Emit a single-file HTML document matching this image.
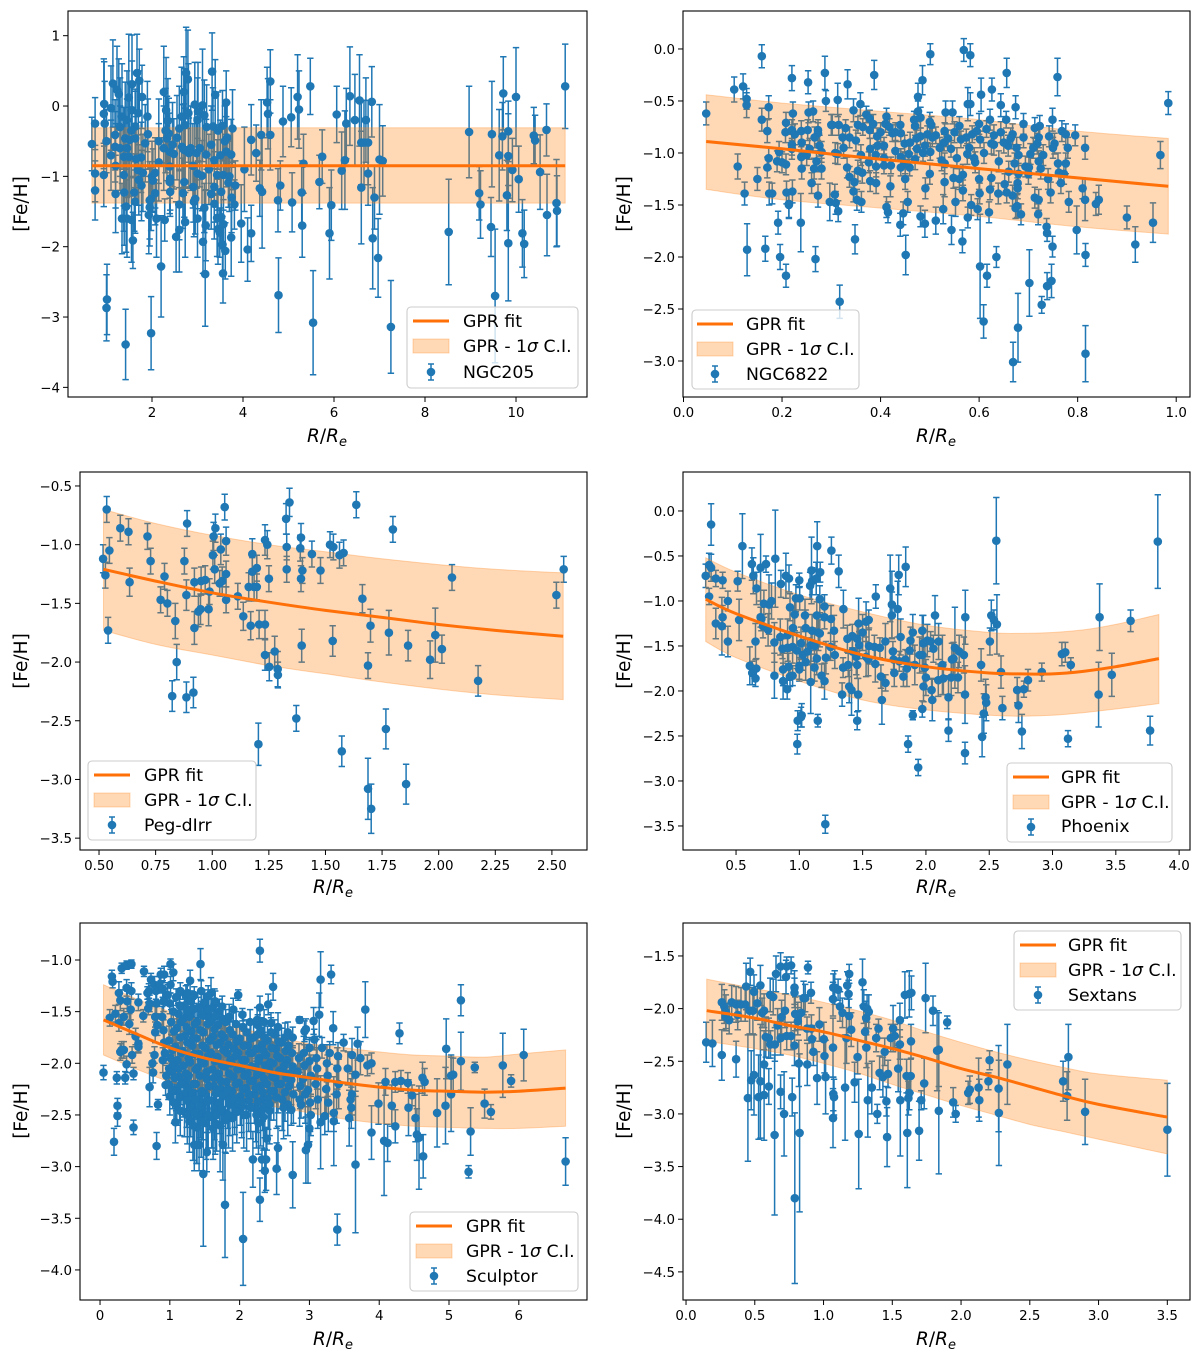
<!DOCTYPE html>
<html lang="en">
<head>
<meta charset="utf-8">
<title>GPR fits of [Fe/H] versus R/Re</title>
<style>
html,body{margin:0;padding:0;background:#fff;}
svg{display:block;font-family:"DejaVu Sans","Liberation Sans",sans-serif;}
.frame{fill:none;stroke:#000;stroke-width:1.1;}
.legend-box{fill:#fff;fill-opacity:.8;stroke:#ccc;stroke-width:1.1;}
.legend-text{font-size:17.3px;fill:#000;}
.axis-title{font-size:18.5px;fill:#000;text-anchor:middle;}
.fit-sample{stroke:#ff7008;stroke-width:3;}
.band-sample{fill:#ff7f0e;fill-opacity:.3;stroke:#ff7f0e;stroke-opacity:.3;}
.tick-label{font-size:13.4px;fill:#000;}
</style>
</head>
<body>
<svg xmlns="http://www.w3.org/2000/svg" width="1200" height="1361" viewBox="0 0 1200 1361">
  <rect width="1200" height="1361" fill="#fff"/>

  <g id="panel-ngc205">
    <g class="marks"></g>
    <rect class="frame" x="68" y="11" width="519" height="386"/>
    <g class="ticks"></g>
    <text class="axis-title" x="327" y="442"><tspan font-style="italic">R</tspan>/<tspan font-style="italic">R</tspan><tspan font-style="italic" font-size="13" dy="4">e</tspan></text>
    <text class="axis-title" transform="translate(27,204) rotate(-90)">[Fe/H]</text>
    <g>
      <rect class="legend-box" x="407" y="307" width="171" height="81" rx="4"/>
      <line class="fit-sample" x1="413" x2="449" y1="321" y2="321"/>
      <text class="legend-text" x="463" y="327">GPR fit</text>
      <rect class="band-sample" x="413" y="339" width="36" height="14"/>
      <text class="legend-text" x="463" y="352">GPR - 1<tspan font-style="italic">σ</tspan> C.I.</text>
      <path d="M431 364V380M428 364H434M428 380H434" stroke="#1f77b4" stroke-width="1.5" fill="none"/>
      <circle cx="431" cy="372" r="4.3" fill="#1f77b4"/>
      <text class="legend-text" x="463" y="378">NGC205</text>
    </g>
  </g>

  <g id="panel-ngc6822">
    <g class="marks"></g>
    <rect class="frame" x="683" y="11" width="507" height="386"/>
    <g class="ticks"></g>
    <text class="axis-title" x="936" y="442"><tspan font-style="italic">R</tspan>/<tspan font-style="italic">R</tspan><tspan font-style="italic" font-size="13" dy="4">e</tspan></text>
    <text class="axis-title" transform="translate(630,204) rotate(-90)">[Fe/H]</text>
    <g>
      <rect class="legend-box" x="692" y="310" width="167" height="79" rx="4"/>
      <line class="fit-sample" x1="697" x2="733" y1="324" y2="324"/>
      <text class="legend-text" x="746" y="330">GPR fit</text>
      <rect class="band-sample" x="697" y="342" width="36" height="14"/>
      <text class="legend-text" x="746" y="355">GPR - 1<tspan font-style="italic">σ</tspan> C.I.</text>
      <path d="M715 366V382M712 366H718M712 382H718" stroke="#1f77b4" stroke-width="1.5" fill="none"/>
      <circle cx="715" cy="374" r="4.3" fill="#1f77b4"/>
      <text class="legend-text" x="746" y="380">NGC6822</text>
    </g>
  </g>

  <g id="panel-peg">
    <g class="marks"></g>
    <rect class="frame" x="80" y="472" width="507" height="378"/>
    <g class="ticks"></g>
    <text class="axis-title" x="333" y="893"><tspan font-style="italic">R</tspan>/<tspan font-style="italic">R</tspan><tspan font-style="italic" font-size="13" dy="4">e</tspan></text>
    <text class="axis-title" transform="translate(27,661) rotate(-90)">[Fe/H]</text>
    <g>
      <rect class="legend-box" x="88" y="761" width="168" height="79" rx="4"/>
      <line class="fit-sample" x1="94" x2="130" y1="775" y2="775"/>
      <text class="legend-text" x="144" y="781">GPR fit</text>
      <rect class="band-sample" x="94" y="793" width="36" height="14"/>
      <text class="legend-text" x="144" y="806">GPR - 1<tspan font-style="italic">σ</tspan> C.I.</text>
      <path d="M112 817V833M109 817H115M109 833H115" stroke="#1f77b4" stroke-width="1.5" fill="none"/>
      <circle cx="112" cy="825" r="4.3" fill="#1f77b4"/>
      <text class="legend-text" x="144" y="831">Peg-dIrr</text>
    </g>
  </g>

  <g id="panel-phoenix">
    <g class="marks"></g>
    <rect class="frame" x="683" y="472" width="507" height="378"/>
    <g class="ticks"></g>
    <text class="axis-title" x="936" y="893"><tspan font-style="italic">R</tspan>/<tspan font-style="italic">R</tspan><tspan font-style="italic" font-size="13" dy="4">e</tspan></text>
    <text class="axis-title" transform="translate(630,661) rotate(-90)">[Fe/H]</text>
    <g>
      <rect class="legend-box" x="1007" y="763" width="165" height="79" rx="4"/>
      <line class="fit-sample" x1="1013" x2="1049" y1="777" y2="777"/>
      <text class="legend-text" x="1061" y="783">GPR fit</text>
      <rect class="band-sample" x="1013" y="795" width="36" height="14"/>
      <text class="legend-text" x="1061" y="808">GPR - 1<tspan font-style="italic">σ</tspan> C.I.</text>
      <path d="M1031 819V835M1028 819H1034M1028 835H1034" stroke="#1f77b4" stroke-width="1.5" fill="none"/>
      <circle cx="1031" cy="827" r="4.3" fill="#1f77b4"/>
      <text class="legend-text" x="1061" y="832">Phoenix</text>
    </g>
  </g>

  <g id="panel-sculptor">
    <g class="marks"></g>
    <rect class="frame" x="80" y="923" width="507" height="377"/>
    <g class="ticks"></g>
    <text class="axis-title" x="333" y="1345"><tspan font-style="italic">R</tspan>/<tspan font-style="italic">R</tspan><tspan font-style="italic" font-size="13" dy="4">e</tspan></text>
    <text class="axis-title" transform="translate(27,1111) rotate(-90)">[Fe/H]</text>
    <g>
      <rect class="legend-box" x="410" y="1212" width="168" height="79" rx="4"/>
      <line class="fit-sample" x1="416" x2="452" y1="1226" y2="1226"/>
      <text class="legend-text" x="466" y="1232">GPR fit</text>
      <rect class="band-sample" x="416" y="1244" width="36" height="14"/>
      <text class="legend-text" x="466" y="1257">GPR - 1<tspan font-style="italic">σ</tspan> C.I.</text>
      <path d="M434 1268V1284M431 1268H437M431 1284H437" stroke="#1f77b4" stroke-width="1.5" fill="none"/>
      <circle cx="434" cy="1276" r="4.3" fill="#1f77b4"/>
      <text class="legend-text" x="466" y="1282">Sculptor</text>
    </g>
  </g>

  <g id="panel-sextans">
    <g class="marks"></g>
    <rect class="frame" x="683" y="923" width="507" height="377"/>
    <g class="ticks"></g>
    <text class="axis-title" x="936" y="1345"><tspan font-style="italic">R</tspan>/<tspan font-style="italic">R</tspan><tspan font-style="italic" font-size="13" dy="4">e</tspan></text>
    <text class="axis-title" transform="translate(630,1111) rotate(-90)">[Fe/H]</text>
    <g>
      <rect class="legend-box" x="1014" y="931" width="167" height="79" rx="4"/>
      <line class="fit-sample" x1="1020" x2="1056" y1="945" y2="945"/>
      <text class="legend-text" x="1068" y="951">GPR fit</text>
      <rect class="band-sample" x="1020" y="963" width="36" height="14"/>
      <text class="legend-text" x="1068" y="976">GPR - 1<tspan font-style="italic">σ</tspan> C.I.</text>
      <path d="M1038 987V1003M1035 987H1041M1035 1003H1041" stroke="#1f77b4" stroke-width="1.5" fill="none"/>
      <circle cx="1038" cy="995" r="4.3" fill="#1f77b4"/>
      <text class="legend-text" x="1068" y="1001">Sextans</text>
    </g>
  </g>
</svg>

<script>
/* ---------- NGC205 ---------- */
const ngc205R = [
.68,.75,.75,.75,.94,.95,.96,.94,1.0,1.01,
1.0,1.14,1.23,1.27,1.1,1.19,1.19,1.34,1.34,1.42,
1.41,1.38,1.38,1.39,1.43,1.49,1.51,1.56,1.56,1.49,
1.55,1.58,1.61,1.63,1.67,1.72,1.63,1.69,1.63,1.71,
1.77,1.76,1.78,1.85,1.9,1.91,1.98,1.95,1.95,1.93,
2.0,2.02,2.07,2.07,1.98,2.2,2.26,2.28,2.31,2.35,
2.33,2.26,2.37,2.39,2.39,2.4,2.39,2.4,2.48,2.53,
2.6,2.6,2.66,2.7,2.75,2.79,2.72,2.73,2.71,2.68,
2.73,2.81,2.91,2.94,2.98,3.01,2.92,2.95,3.0,3.11,
3.15,3.19,3.1,3.15,3.18,3.12,3.17,3.32,3.34,3.39,
3.37,3.37,3.37,3.43,3.43,3.49,3.52,3.57,3.55,3.63,
3.65,3.63,3.74,3.52,3.57,3.55,3.61,3.56,3.74,3.68,
3.83,3.77,3.81,3.96,4.03,4.1,4.18,4.18,4.29,4.37,
4.42,4.4,4.53,4.55,4.6,4.6,4.77,4.82,4.78,4.88,
5.06,5.08,5.2,5.23,5.29,5.3,5.33,5.48,5.54,5.68,
5.74,5.9,5.94,6.06,6.17,6.24,6.27,6.35,6.46,6.56,
6.7,6.83,6.6,6.66,6.75,6.6,6.75,6.89,6.85,6.97,
7.0,7.07,7.25,8.52,8.97,9.19,9.22,9.45,9.47,9.54,
9.63,9.7,9.72,9.8,9.83,9.83,9.83,9.92,10.0,10.06,
10.14,10.18,10.39,10.42,10.53,10.67,10.68,10.89,10.9,11.08,
1.1,1.2,1.3,1.3,1.45,1.45,1.55,1.65,1.7,1.8,
2.15,2.15,2.3,2.45,2.55,2.65,2.7,2.8,2.85,2.9,
3.0,3.05,3.2,3.25,3.3,3.45,3.5,3.6,3.7,3.75,
1.2,1.45,2.1,2.6,3.0,3.3,3.45];
const ngc205FeH = [
-.54,-.25,-.96,-1.2,-.11,.03,-.25,-.98,-.5,-2.75,
-2.87,.32,.23,.17,-.03,-.41,-.58,-.15,-1.6,-3.39,
-.46,-.72,-.98,-1.23,-1.43,.12,-.48,.31,-.06,-.72,
-1.62,-1.91,-1.23,-.46,.47,.36,-.29,-.91,-1.36,-1.05,
-1.13,-.73,.13,-.53,-.15,-.4,-3.23,-1.34,-1.44,-1.55,
-1.0,-1.06,-.95,-1.24,-1.32,-2.28,.2,-1.62,-.06,-.21,
-.46,-.6,-.39,-.65,-.86,-1.03,-1.08,-1.22,-.68,-1.86,
-1.76,-.32,-.58,.2,.47,.38,-.27,-.63,-1.08,-1.24,
-1.65,-.67,-1.15,.02,-.67,-.08,-1.36,-1.32,-.96,.01,
-.13,-.69,-.99,-1.45,-1.7,-1.93,-2.39,.49,-.29,.16,
-.77,-1.15,-1.39,-.98,-1.59,-1.8,-1.22,-.98,-.28,.05,
-.45,-.65,-.69,-1.58,-1.68,-1.97,-2.06,-2.38,-1.87,-1.09,
-1.13,-.32,-1.4,-1.67,-.9,-2.04,-.48,-1.81,-.67,-1.17,
-1.22,-.41,.05,-.11,.35,-.41,-1.34,-1.13,-2.69,-.22,
-.16,-1.37,.13,-.05,-1.23,-1.7,-.82,.28,-3.08,-1.08,
-.72,-1.81,-1.41,-.12,-.92,-.77,-.25,.14,-.2,.08,
-.2,.06,-.52,-.52,-.52,-1.16,-.96,-1.3,-1.88,-2.16,
-.76,-.78,-3.14,-1.79,-.37,-1.24,-1.4,-1.72,-.4,-2.7,
-.7,-.43,.18,-1.27,-.71,-1.95,-.36,-.91,.13,-1.04,
-1.81,-1.96,-.42,-.49,-.94,-.34,-1.55,-1.38,-1.49,.28,
-.7,-.85,-.3,-.6,-.2,-.6,-.35,-.75,-.1,-.95,
-.5,-.8,-.35,-.55,-.45,-.15,-.62,-.1,-.6,-.85,
-.2,-.6,-.3,-.9,-.55,-.35,-.7,-.5,-1.0,-1.3,
-1.25,-1.6,-1.6,-1.4,-1.6,-1.25,-1.75];
const ngc205Err = [
.38,.37,.4,.42,.78,.6,.6,.45,.45,.5,
.47,.62,.62,.5,.6,.5,.5,.75,.5,.5,
.8,.7,.8,.75,.65,.9,.8,.7,.7,.7,
.6,.4,.55,.7,.55,.45,.5,.5,.45,.5,
.5,.5,.45,.55,.5,.5,.52,.55,.55,.55,
.5,.45,.5,.45,.45,.72,.65,.3,.75,.6,
.6,.6,.5,.55,.45,.45,.45,.35,.5,.5,
.6,.6,.6,.5,.65,.7,.8,.6,.5,.5,
.5,.5,.5,.6,.5,.7,.5,.5,.5,.8,
.5,.5,.5,.35,.5,.45,.74,.55,.55,.5,
.5,.5,.5,.5,.55,.35,.5,.5,.5,.45,
.5,.5,.5,.4,.35,.4,.4,.42,.55,.35,
.35,.55,.35,.55,.6,.45,.5,.4,.4,.4,
.8,.5,.5,.5,.45,.5,.45,.35,.53,.5,
.42,.42,.6,.55,.45,.45,.42,.4,.74,.38,
.38,.65,.5,.4,.55,.7,.5,.7,.65,.65,
.6,.5,.6,.6,.6,.8,.45,.45,.72,.56,
.78,.5,.66,.75,.65,.38,.48,.42,.75,.95,
.65,.48,.52,.5,.6,.82,.43,.45,.7,.47,
.48,.48,.4,.36,.53,.37,.58,.62,.5,.6,
.5,.6,.7,.6,.7,.7,.65,.6,.6,.55,
.6,.55,.6,.6,.6,.7,.65,.7,.6,.6,
.6,.55,.6,.5,.55,.55,.5,.5,.5,.5,
.55,.55,.55,.5,.55,.5,.5];
const ngc205FitR = [.68,3,6,9,11.08];
const ngc205FitMean = [-.85,-.85,-.85,-.85,-.85];
const ngc205FitUpper = [-.31,-.31,-.31,-.31,-.31];
const ngc205FitLower = [-1.38,-1.38,-1.38,-1.38,-1.38];
const ngc205XTicks = [2,4,6,8,10];
const ngc205YTicks = [1,0,-1,-2,-3,-4];

/* ---------- NGC6822 ---------- */
const ngc6822R = [
.046,.103,.121,.128,.128,.11,.124,.129,.159,.159,
.173,.17,.173,.17,.15,.174,.18,.166,.192,.196,
.208,.22,.222,.208,.207,.226,.22,.22,.194,.19,
.2,.208,.209,.221,.214,.214,.238,.253,.254,.263,
.239,.252,.273,.273,.266,.256,.276,.25,.239,.27,
.265,.26,.273,.268,.287,.289,.313,.333,.302,.315,
.329,.323,.337,.308,.313,.332,.337,.297,.307,.309,
.314,.317,.345,.359,.387,.371,.378,.354,.364,.378,
.393,.379,.394,.407,.376,.391,.407,.407,.421,.354,
.363,.347,.379,.391,.42,.345,.352,.361,.348,.412,
.41,.418,.424,.441,.449,.468,.476,.485,.476,.481,
.501,.473,.481,.495,.503,.512,.441,.457,.441,.459,
.474,.486,.501,.524,.529,.537,.532,.546,.53,.543,
.412,.415,.44,.446,.455,.491,.451,.481,.49,.512,
.527,.53,.548,.544,.552,.567,.567,.566,.577,.584,
.569,.582,.577,.582,.563,.574,.586,.595,.602,.576,
.592,.604,.626,.644,.622,.615,.644,.625,.63,.656,
.655,.674,.668,.664,.659,.676,.672,.625,.652,.622,
.639,.601,.656,.668,.68,.678,.678,.677,.674,.685,
.62,.597,.602,.616,.635,.609,.669,.679,.702,.727,
.738,.747,.749,.737,.738,.72,.713,.721,.745,.766,
.762,.772,.776,.725,.721,.704,.69,.713,.723,.721,
.718,.742,.749,.759,.753,.768,.776,.795,.815,.694,
.701,.782,.81,.815,.837,.843,.798,.816,.816,.9,
.917,.953,.968,.984,
.24,.28,.3,.325,.35,.36,.385,.39,.4,.43,
.43,.44,.45,.46,.47,.47,.49,.5,.505,.52,
.53,.55,.555,.56,.58,.59,.6,.61,.63,.64,
.65,.66,.68,.69,.7,.71,.73,.74,.75,.76,
.78,.45,.5,.56,.6,.24,.28,.22];
const ngc6822FeH = [
-.62,-.39,-.36,-.48,-.54,-1.13,-1.39,-1.93,-.07,-.68,
-.56,-.79,-1.05,-1.14,-1.25,-1.39,-1.39,-1.92,-1.67,-2.0,
-2.18,-.28,-.62,-.71,-.8,-.82,-.92,-.96,-.99,-1.08,
-1.09,-1.11,-1.38,-1.37,-1.49,-1.5,-1.67,-.32,-.61,-.6,
-.79,-.78,-.78,-.81,-.85,-.96,-.93,-1.02,-1.04,-1.08,
-1.15,-1.29,-1.41,-2.02,-.23,-.5,-.49,-.34,-.73,-.73,
-.76,-.85,-.85,-1.0,-1.01,-1.14,-1.23,-1.47,-1.4,-1.48,
-1.56,-2.43,-.59,-.53,-.25,-.63,-.67,-.73,-.75,-.78,
-.84,-.96,-.93,-.93,-1.09,-1.13,-1.12,-1.05,-1.12,-1.17,
-1.19,-1.28,-1.27,-1.29,-1.32,-1.37,-1.45,-1.47,-1.83,-.65,
-.72,-.75,-.81,-.81,-.91,-.68,-.46,-.3,-.6,-.66,
-.05,-.86,-.84,-.82,-.73,-.83,-1.04,-1.01,-1.14,-1.14,
-.96,-1.0,-.99,-1.07,-.9,-.86,-.61,-.61,-.79,-.96,
-1.52,-1.57,-1.69,-1.58,-1.47,-1.34,-1.98,-1.61,-1.68,-1.65,
-1.54,-1.28,-1.24,-1.74,-1.47,-1.21,-1.36,-1.85,-1.62,-1.5,
-.01,-.06,-.53,-.53,-.87,-.85,-.82,-.79,-.87,-1.01,
-1.09,-.44,-.39,-.54,-.68,-.77,-.8,-.91,-.92,-.23,
-.68,-.56,-.82,-.86,-.93,-.95,-1.1,-1.24,-1.3,-1.35,
-1.39,-1.39,-1.38,-1.41,-1.2,-1.29,-1.34,-1.51,-1.53,-1.59,
-1.57,-1.54,-2.09,-2.18,-2.0,-2.62,-3.01,-2.68,-2.25,-2.46,
-2.28,-2.23,-1.9,-1.71,-1.77,-1.59,-1.43,-1.45,-1.38,-1.29,
-1.19,-1.2,-1.1,-1.15,-1.08,-1.01,-.72,-.76,-.74,-.85,
-.91,-.84,-.68,-.27,-.91,-.79,-.82,-.83,-.95,-1.13,
-1.14,-1.47,-1.34,-1.45,-1.49,-1.45,-1.74,-1.98,-2.93,-1.62,
-1.88,-1.67,-1.02,-.52,
-.9,-.99,-.73,-.95,-.88,-1.02,-.72,-1.02,-.8,-.8,
-.98,-.73,-1.1,-.9,-.74,-1.06,-.93,-.7,-.85,-.95,
-1.1,-.8,-1.05,-.74,-.95,-1.05,-.72,-1.0,-.83,-1.08,
-.9,-1.18,-1.02,-.85,-1.2,-.95,-1.02,-1.25,-.95,-1.1,
-.95,-1.25,-1.2,-1.25,-1.25,-1.15,-1.15,-.78];
const ngc6822Err = [
.11,.12,.12,.1,.12,.12,.11,.25,.11,.11,
.11,.11,.1,.1,.11,.11,.1,.12,.11,.12,
.11,.12,.11,.1,.1,.1,.1,.1,.1,.1,
.1,.1,.11,.11,.13,.13,.28,.11,.1,.1,
.1,.1,.1,.1,.1,.1,.1,.1,.1,.1,
.1,.1,.11,.12,.16,.1,.16,.14,.1,.1,
.08,.1,.1,.1,.1,.1,.1,.18,.1,.11,
.1,.16,.11,.11,.14,.08,.08,.08,.08,.08,
.08,.1,.08,.08,.1,.1,.08,.08,.08,.1,
.1,.1,.1,.1,.1,.1,.1,.1,.14,.08,
.08,.08,.08,.08,.08,.08,.13,.14,.1,.1,
.1,.08,.08,.08,.08,.08,.08,.08,.08,.08,
.08,.08,.08,.1,.08,.08,.11,.11,.08,.08,
.1,.1,.11,.11,.1,.1,.19,.1,.13,.13,
.14,.14,.1,.14,.14,.1,.1,.11,.1,.1,
.11,.11,.16,.11,.08,.08,.08,.08,.08,.1,
.1,.16,.11,.11,.1,.08,.1,.1,.1,.14,
.08,.11,.1,.1,.1,.1,.1,.08,.1,.1,
.1,.1,.1,.1,.1,.1,.1,.11,.1,.1,
.1,.1,.5,.11,.1,.16,.19,.33,.32,.08,
.13,.16,.1,.08,.08,.1,.1,.1,.1,.1,
.1,.1,.1,.1,.1,.1,.1,.1,.1,.1,
.1,.1,.11,.18,.1,.1,.1,.1,.11,.1,
.1,.1,.1,.2,.11,.14,.23,.11,.27,.11,
.17,.19,.13,.11,
.1,.1,.1,.1,.1,.1,.09,.1,.09,.09,
.1,.09,.1,.1,.09,.1,.1,.09,.09,.1,
.1,.1,.1,.09,.1,.1,.1,.1,.1,.1,
.1,.1,.1,.1,.1,.1,.1,.1,.1,.1,
.1,.1,.1,.1,.1,.1,.1,.1];
const ngc6822FitR = [.046,.2,.4,.6,.8,.984];
const ngc6822FitMean = [-.89,-.96,-1.06,-1.15,-1.24,-1.32];
const ngc6822FitUpper = [-.44,-.52,-.6,-.68,-.79,-.86];
const ngc6822FitLower = [-1.35,-1.45,-1.53,-1.61,-1.71,-1.78];
const ngc6822XTicks = [0,.2,.4,.6,.8,1];
const ngc6822YTicks = [0,-.5,-1,-1.5,-2,-2.5,-3];

/* ---------- Peg-dIrr ---------- */
const pegR = [
.518,.528,.534,.54,.546,.594,.63,.635,.714,.728,
.772,.789,.802,.837,.843,.823,.877,.889,.886,.886,
.917,.921,.921,.939,.948,.951,.969,.984,.988,1.003,
1.006,1.014,1.011,1.038,1.033,1.044,1.055,1.061,1.061,1.061,
1.113,1.137,1.161,1.17,1.177,1.177,1.185,1.197,1.197,1.204,
1.207,1.233,1.233,1.243,1.233,1.252,1.25,1.276,1.289,1.29,
1.326,1.341,1.329,1.329,1.371,1.389,1.392,1.392,1.398,1.395,
1.44,1.478,1.52,1.535,1.532,1.562,1.58,1.572,1.636,1.663,
1.688,1.688,1.699,1.702,1.767,1.78,1.798,1.856,1.865,1.962,
1.985,2.014,2.059,2.174,2.52,2.552];
const pegFeH = [
-1.12,-1.26,-.7,-1.73,-1.05,-.86,-.89,-1.32,-.93,-1.14,
-1.47,-1.27,-1.5,-1.65,-2.0,-2.29,-1.14,-.82,-1.43,-2.3,
-2.26,-1.32,-1.71,-1.57,-1.55,-1.31,-1.3,-1.55,-1.4,-1.09,
-.93,-.86,-1.21,-1.04,-1.33,-1.31,-.68,-.97,-1.25,-1.47,
-1.44,-1.61,-1.36,-1.69,-1.08,-1.23,-1.36,-1.2,-1.36,-2.7,
-1.68,-1.68,-.96,-1.0,-1.94,-2.04,-1.29,-1.91,-2.06,-2.11,
-.78,-.64,-1.02,-1.21,-2.48,-1.03,-.94,-1.29,-1.22,-1.86,
-1.08,-1.22,-1.0,-1.02,-1.82,-1.09,-1.07,-2.76,-.66,-1.46,
-2.03,-3.08,-1.69,-3.25,-2.57,-1.75,-.87,-3.04,-1.86,-1.98,
-1.77,-1.89,-1.28,-2.16,-1.43,-1.21];
const pegErr = [
.12,.11,.11,.11,.11,.11,.11,.12,.11,.11,
.11,.11,.11,.15,.15,.13,.11,.11,.13,.13,
.13,.12,.14,.13,.13,.12,.12,.14,.11,.12,
.12,.12,.12,.13,.11,.12,.11,.12,.11,.11,
.11,.12,.12,.12,.13,.12,.12,.11,.11,.18,
.12,.12,.13,.12,.13,.12,.11,.13,.15,.11,
.13,.12,.11,.11,.11,.11,.12,.11,.11,.14,
.11,.11,.11,.11,.13,.11,.11,.13,.11,.12,
.11,.26,.14,.21,.17,.19,.11,.17,.13,.16,
.23,.12,.11,.13,.11,.11];
const pegFitR = [.52,.75,1,1.25,1.5,1.75,2,2.25,2.55];
const pegFitMean = [-1.21,-1.31,-1.41,-1.49,-1.56,-1.62,-1.68,-1.73,-1.78];
const pegFitUpper = [-.7,-.82,-.92,-1,-1.06,-1.12,-1.17,-1.21,-1.24];
const pegFitLower = [-1.73,-1.85,-1.94,-2.03,-2.1,-2.17,-2.23,-2.28,-2.32];
const pegXTicks = [.5,.75,1,1.25,1.5,1.75,2,2.25,2.5];
const pegYTicks = [-.5,-1,-1.5,-2,-2.5,-3,-3.5];

/* ---------- Phoenix ---------- */
const phoenixR = [
.26,.287,.303,.303,.287,.34,.394,.34,.394,.388,
.436,.436,.513,.524,.55,.609,.625,.636,.628,.66,
.654,.662,.654,.694,.737,.72,.76,.694,.713,.753,
.81,.803,.803,.854,.867,.872,.872,.904,.894,.918,
.926,.907,.907,.915,.926,.947,.947,.963,.973,1.0,
1.003,1.0,1.0,.987,.984,1.019,1.013,1.013,1.027,1.045,
1.066,1.085,1.096,1.101,1.093,1.101,1.09,1.12,1.133,1.141,
1.138,1.138,1.165,1.162,1.162,1.146,1.176,1.199,1.199,1.199,
1.21,1.205,1.253,1.247,1.274,1.311,1.338,1.346,1.348,1.386,
1.394,1.412,1.418,1.42,1.457,1.457,1.468,1.465,1.457,1.473,
1.527,1.548,1.527,1.545,1.604,1.593,1.636,1.644,1.652,1.681,
1.718,1.731,1.731,1.739,1.745,1.777,1.785,1.79,1.822,1.84,
1.838,1.859,1.872,1.878,1.896,1.896,1.912,1.939,1.971,1.979,
1.971,1.981,1.971,1.992,2.011,2.037,2.045,2.05,2.059,2.072,
2.098,2.13,2.138,2.178,2.178,2.205,2.218,2.229,2.263,2.253,
2.311,2.309,2.309,2.436,2.444,2.457,2.471,2.476,2.505,2.516,
2.537,2.556,2.561,2.593,2.604,2.721,2.731,2.758,2.774,2.806,
2.915,3.074,3.101,3.122,3.144,3.364,3.372,3.468,3.617,3.771,
3.832,
.7,.78,.85,.95,.98,1.05,1.05,1.12,1.15,1.25,
1.28,1.38,1.45,1.5,1.55,1.6,1.68,1.75,1.8,1.85,
1.95,2.0,2.1,2.2,2.3];
const phoenixFeH = [
-.72,-.6,-.15,-.63,-.95,-.75,-.77,-1.25,-1.18,-1.28,
-1.0,-1.45,-.78,-1.21,-.39,-1.72,-.59,-.72,-1.8,-1.75,
-1.86,-.86,-1.45,-.63,-.59,-1.03,-1.04,-1.18,-1.28,-1.32,
-.53,-1.46,-1.83,-.81,-1.53,-1.76,-1.89,-1.98,-.72,-.75,
-1.07,-1.38,-1.52,-1.73,-1.84,-1.83,-1.51,-1.15,-.97,-.77,
-.97,-1.72,-1.76,-2.33,-2.59,-2.27,-2.29,-1.47,-1.6,-1.16,
-1.56,-.83,-.66,-.78,-1.49,-1.33,-1.9,-1.74,-.75,-.39,
-1.16,-1.64,-.68,-.98,-1.36,-2.33,-1.83,-1.06,-1.18,-1.89,
-1.63,-3.48,-.44,-1.51,-1.33,-.67,-2.04,-1.74,-1.09,-1.71,
-1.95,-1.99,-1.39,-1.56,-1.71,-1.42,-1.25,-2.04,-2.33,-1.49,
-1.23,-1.21,-1.62,-1.65,-.95,-1.51,-1.52,-1.84,-2.1,-1.91,
-.86,-1.04,-1.16,-1.56,-1.65,-1.09,-.71,-1.67,-1.84,-.62,
-1.65,-2.59,-1.55,-1.44,-1.35,-2.27,-1.71,-2.85,-1.33,-1.47,
-1.6,-1.95,-2.2,-1.74,-1.44,-1.45,-1.99,-2.1,-1.53,-1.16,
-1.88,-1.71,-1.86,-2.07,-2.44,-1.65,-1.64,-1.52,-1.56,-1.85,
-1.18,-2.04,-2.69,-1.71,-2.51,-2.25,-2.07,-2.13,-1.45,-1.16,
-1.21,-.33,-1.26,-1.79,-2.19,-1.99,-2.16,-2.45,-1.98,-1.88,
-1.79,-1.59,-1.57,-2.53,-1.71,-2.04,-1.18,-1.82,-1.22,-2.44,
-.34,
-1.2,-1.0,-1.4,-1.3,-1.55,-1.3,-1.68,-1.5,-1.35,-1.2,
-1.6,-1.42,-1.62,-1.35,-1.5,-1.7,-1.45,-1.8,-1.4,-1.75,
-1.6,-1.85,-1.45,-1.85,-1.6];
const phoenixErr = [
.13,.13,.23,.15,.09,.09,.09,.17,.13,.32,
.11,.17,.11,.23,.36,.21,.18,.2,.13,.11,
.09,.18,.2,.37,.09,.15,.33,.11,.13,.18,
.54,.22,.25,.15,.11,.18,.2,.11,.25,.15,
.15,.18,.15,.15,.11,.11,.18,.18,.15,.08,
.13,.15,.13,.11,.11,.13,.11,.18,.17,.18,
.15,.15,.37,.15,.18,.18,.35,.15,.18,.27,
.15,.18,.11,.15,.15,.07,.13,.13,.13,.2,
.18,.1,.15,.15,.17,.18,.13,.11,.21,.13,
.18,.28,.13,.15,.15,.17,.28,.18,.1,.15,
.22,.11,.22,.18,.13,.13,.11,.13,.27,.09,
.37,.37,.26,.11,.11,.31,.22,.11,.11,.22,
.11,.09,.13,.15,.2,.05,.22,.09,.17,.31,
.18,.17,.09,.24,.18,.11,.13,.23,.15,.22,
.18,.33,.18,.24,.12,.18,.18,.45,.18,.17,
.3,.32,.12,.18,.22,.22,.2,.2,.15,.17,
.11,.48,.33,.18,.13,.14,.19,.19,.09,.12,
.1,.13,.11,.09,.08,.36,.37,.24,.12,.16,
.52,
.13,.2,.2,.2,.2,.2,.2,.2,.2,.15,
.15,.15,.2,.2,.2,.2,.2,.15,.2,.2,
.2,.2,.2,.2,.2];
const phoenixFitR = [.26,.5,1,1.5,2,2.5,2.75,3,3.25,3.5,3.84];
const phoenixFitMean = [-.98,-1.14,-1.39,-1.6,-1.73,-1.8,-1.81,-1.81,-1.78,-1.73,-1.64];
const phoenixFitUpper = [-.52,-.68,-.93,-1.12,-1.27,-1.35,-1.36,-1.35,-1.32,-1.26,-1.15];
const phoenixFitLower = [-1.45,-1.63,-1.89,-2.1,-2.21,-2.27,-2.28,-2.27,-2.24,-2.2,-2.14];
const phoenixXTicks = [.5,1,1.5,2,2.5,3,3.5,4];
const phoenixYTicks = [0,-.5,-1,-1.5,-2,-2.5,-3,-3.5];

/* ---------- Sculptor (outer stars) ---------- */
const sculptorR = [
.05,.17,.18,.24,.36,.25,.25,.2,.48,.81,
.31,.38,.45,.63,.27,.29,.38,.45,.39,.55,
.44,.14,.22,.27,.34,.42,.51,.55,.55,.29,
.34,.31,.46,.38,.48,.69,.62,.78,.75,.76,
.71,.83,.94,.95,.99,.93,.91,.87,1.01,1.05,
1.01,.92,.73,.68,.78,.85,.97,.79,.82,1.29,
1.44,1.23,1.48,1.33,1.59,1.64,1.98,2.29,2.48,2.29,
2.41,1.91,2.04,2.26,2.45,2.69,2.76,2.86,2.93,2.95,
3.06,3.16,3.14,3.31,3.34,3.07,3.0,3.18,3.49,3.29,
3.41,3.69,3.8,3.61,3.73,3.55,3.66,3.83,3.89,4.29,
4.09,4.23,4.31,4.41,4.47,4.62,4.65,4.96,5.17,5.17,
5.37,5.77,5.89,6.07,5.51,5.6,5.31,5.28,6.67,5.03,
5.06,5.03,4.95,4.83,4.42,4.52,4.54,4.57,4.63,3.99,
3.89,4.07,4.12,4.18,4.23,3.35,3.35,3.22,3.16,3.02,
3.0,2.98,2.95,2.88,2.74,2.76,2.55,2.53,2.29,2.36,
2.32,2.38,2.39,2.19,2.05,1.79,1.76,1.48,1.53,1.35,
1.42,1.38,1.72,1.08,3.4,3.66,3.57,3.6,3.59,3.61];
const sculptorFeH = [
-2.09,-1.16,-1.21,-2.14,-2.14,-2.41,-2.51,-2.76,-2.62,-2.8,
-1.08,-1.05,-1.04,-1.11,-1.32,-1.39,-1.27,-1.3,-1.4,-1.41,
-1.48,-1.56,-1.52,-1.61,-1.55,-1.62,-1.74,-1.81,-1.84,-1.89,
-1.87,-1.87,-1.92,-2.01,-2.1,-1.47,-1.54,-1.92,-2.0,-2.09,
-2.23,-2.4,-2.21,-2.12,-2.05,-1.9,-1.68,-1.14,-1.04,-1.12,
-1.24,-1.14,-1.19,-1.32,-1.24,-1.24,-1.34,-1.55,-1.63,-1.2,
-1.04,-1.35,-1.43,-1.48,-1.32,-1.43,-1.34,-.91,-1.26,-1.46,
-1.43,-1.48,-1.53,-1.63,-1.61,-1.7,-1.75,-1.58,-1.69,-1.67,
-1.59,-1.19,-1.53,-1.14,-1.66,-1.77,-1.85,-1.85,-1.8,-1.9,
-1.93,-1.81,-1.48,-1.92,-1.95,-2.05,-2.11,-2.02,-2.0,-1.71,
-2.18,-2.18,-2.17,-2.19,-2.31,-2.14,-2.18,-1.86,-1.98,-1.39,
-2.04,-2.02,-2.17,-1.92,-2.39,-2.47,-2.66,-3.05,-2.95,-2.12,
-2.11,-2.3,-2.41,-2.48,-2.43,-2.53,-2.69,-2.72,-2.9,-2.39,
-2.67,-2.75,-2.77,-2.41,-2.61,-2.48,-2.56,-2.51,-2.57,-2.5,
-2.63,-2.79,-2.84,-2.4,-2.45,-3.08,-2.82,-3.02,-3.32,-3.04,
-2.93,-2.93,-2.73,-2.93,-3.7,-3.37,-2.79,-3.07,-2.86,-2.79,
-2.79,-2.79,-2.6,-2.57,-3.61,-2.98,-2.53,-2.43,-2.35,-2.3];
const sculptorErr = [
.07,.06,.06,.06,.06,.07,.1,.13,.07,.13,
.05,.04,.04,.05,.11,.1,.08,.08,.1,.08,
.1,.08,.08,.08,.08,.1,.08,.08,.06,.08,
.08,.08,.08,.08,.06,.06,.06,.08,.1,.1,
.19,.05,.1,.1,.1,.1,.1,.06,.05,.08,
.08,.08,.06,.06,.08,.08,.1,.1,.1,.1,
.15,.1,.1,.1,.15,.15,.05,.11,.13,.11,
.1,.11,.06,.1,.1,.1,.1,.03,.1,.1,
.13,.27,.21,.09,.16,.1,.1,.1,.08,.11,
.13,.16,.27,.16,.16,.16,.16,.1,.1,.1,
.13,.1,.1,.1,.1,.15,.13,.29,.28,.15,
.05,.31,.06,.25,.14,.07,.23,.06,.23,.2,
.16,.36,.37,.33,.27,.23,.25,.5,.21,.2,
.26,.53,.18,.2,.16,.18,.43,.18,.45,.2,
.13,.37,.32,.13,.15,.32,.21,.25,.21,.21,
.11,.3,.11,.27,.45,.51,.34,.7,.19,.25,
.25,.18,.45,.2,.15,.66,.27,.2,.2,.2];

/* ---------- Sculptor (crowded core, first pass) ---------- */
const sculptorCoreR = [
1.0,1.02,.99,1.01,1.03,.98,1.0,
1.09,1.12,1.1,1.08,1.11,1.13,1.09,1.1,
1.21,1.19,1.22,1.18,1.2,1.23,1.19,1.21,
1.3,1.28,1.31,1.32,1.29,1.27,1.31,1.3,1.28,
1.41,1.39,1.38,1.42,1.4,1.37,1.43,1.41,1.39,
1.5,1.52,1.48,1.51,1.49,1.53,1.5,1.47,1.52,
1.6,1.58,1.62,1.59,1.61,1.63,1.57,1.6,1.62,
1.71,1.69,1.72,1.68,1.7,1.73,1.71,1.67,
1.8,1.78,1.82,1.79,1.81,1.83,1.77,1.8,
1.9,1.92,1.88,1.91,1.89,1.93,1.9,
2.0,1.98,2.02,1.99,2.01,2.03,
2.1,2.12,2.08,2.11,2.09,2.13,2.1,
2.2,2.18,2.22,2.19,2.21,2.23,
2.3,2.32,2.28,2.31,2.29,2.33,2.3,2.27,
2.4,2.38,2.42,2.39,2.41,2.43,
2.5,2.52,2.48,2.51,2.49,
2.6,2.58,2.62,2.59,2.61,
2.7,2.68,2.72,2.71,2.69,
2.85,2.83,2.87,2.86,
3.0,3.02,2.98,3.01];
const sculptorCoreFeH = [
-1.42,-1.6,-1.78,-1.95,-2.08,-2.2,-2.32,
-1.36,-1.52,-1.66,-1.84,-1.97,-2.13,-2.26,-2.4,
-1.44,-1.57,-1.73,-1.88,-2.02,-2.17,-2.3,-2.47,
-1.4,-1.55,-1.69,-1.83,-1.99,-2.12,-2.28,-2.41,-2.56,
-1.46,-1.6,-1.76,-1.91,-2.04,-2.2,-2.35,-2.5,-2.62,
-1.41,-1.54,-1.7,-1.85,-2.0,-2.15,-2.29,-2.44,-2.58,
-1.47,-1.6,-1.74,-1.9,-2.06,-2.22,-2.36,-2.52,-2.63,
-1.5,-1.63,-1.8,-1.94,-2.1,-2.25,-2.38,-2.5,
-1.6,-1.75,-1.9,-2.03,-2.18,-2.33,-2.47,-2.55,
-1.72,-1.86,-2.0,-2.13,-2.27,-2.41,-2.53,
-1.76,-1.9,-2.05,-2.19,-2.32,-2.42,
-1.7,-1.83,-1.97,-2.1,-2.24,-2.36,-2.5,
-1.75,-1.9,-2.04,-2.17,-2.3,-2.44,
-1.68,-1.82,-1.95,-2.09,-2.22,-2.35,-2.48,-2.58,
-1.78,-1.92,-2.06,-2.2,-2.34,-2.46,
-1.72,-1.86,-2.0,-2.14,-2.27,
-1.8,-1.95,-2.08,-2.2,-2.35,
-1.83,-1.97,-2.1,-2.22,-2.4,
-1.95,-2.08,-2.22,-2.35,
-1.98,-2.12,-2.26,-2.38];
const sculptorCoreErr = [
.1,.12,.14,.12,.16,.15,.18,
.08,.1,.14,.12,.16,.18,.2,.2,
.1,.12,.12,.16,.14,.2,.22,.24,
.1,.1,.14,.14,.18,.2,.25,.3,.3,
.1,.14,.12,.18,.22,.24,.28,.32,.35,
.12,.12,.14,.18,.16,.25,.3,.3,.35,
.1,.14,.16,.16,.2,.25,.28,.3,.3,
.12,.14,.14,.2,.22,.24,.3,.35,
.12,.16,.16,.18,.24,.3,.3,.32,
.12,.14,.18,.2,.24,.28,.32,
.14,.14,.2,.22,.28,.3,
.12,.16,.18,.22,.26,.3,.35,
.14,.16,.2,.22,.28,.32,
.12,.16,.16,.2,.26,.3,.32,.3,
.14,.16,.2,.24,.3,.32,
.14,.18,.2,.24,.28,
.14,.16,.2,.24,.3,
.14,.16,.2,.26,.3,
.14,.18,.22,.26,
.16,.2,.24,.28];

/* ---------- Sculptor (crowded core, second pass) ---------- */
const sculptorFillR = [
1.05,1.06,1.04,1.05,1.07,1.04,1.06,
1.15,1.14,1.16,1.15,1.17,1.13,1.16,1.14,1.15,
1.25,1.26,1.24,1.25,1.27,1.23,1.26,1.24,1.25,
1.35,1.34,1.36,1.33,1.35,1.37,1.34,1.36,1.35,1.33,
1.45,1.46,1.44,1.47,1.45,1.43,1.46,1.44,1.45,
1.55,1.56,1.54,1.57,1.55,1.53,1.56,1.54,1.55,
1.65,1.66,1.64,1.67,1.65,1.63,1.66,1.64,1.65,
1.75,1.76,1.74,1.77,1.75,1.73,1.76,1.74,
1.85,1.86,1.84,1.87,1.85,1.83,1.86,1.84,
1.95,1.96,1.94,1.97,1.95,1.93,1.96,
2.05,2.06,2.04,2.07,2.05,2.03,2.06,
2.15,2.16,2.14,2.17,2.15,2.13,2.16,
2.25,2.26,2.24,2.27,2.25,2.23,2.26,2.24,
2.35,2.36,2.34,2.37,2.35,2.33,2.36,2.34,
2.45,2.46,2.44,2.47,2.45,2.43,
2.55,2.56,2.54,2.57,2.55,2.53,
2.65,2.66,2.64,2.67,2.65,2.63,
2.75,2.76,2.74,2.77,
2.92,2.93,2.91,2.94,
3.1,3.11,3.09,3.12,
3.25,3.26,3.24,3.27,
3.4,3.42,3.39,
.7,.71,.8,.81,.79,.9,.91,.89,.92,.9];
const sculptorFillFeH = [
-1.5,-1.69,-1.87,-2.02,-2.14,-2.26,-2.38,
-1.3,-1.44,-1.6,-1.75,-1.9,-2.05,-2.2,-2.33,-2.46,
-1.32,-1.5,-1.65,-1.8,-1.95,-2.1,-2.24,-2.36,-2.5,
-1.34,-1.47,-1.62,-1.76,-1.91,-2.06,-2.2,-2.35,-2.48,-2.6,
-1.3,-1.53,-1.68,-1.83,-1.97,-2.12,-2.27,-2.42,-2.56,
-1.35,-1.48,-1.62,-1.78,-1.93,-2.08,-2.22,-2.37,-2.5,
-1.4,-1.54,-1.67,-1.82,-1.98,-2.14,-2.29,-2.44,-2.58,
-1.45,-1.57,-1.72,-1.87,-2.02,-2.17,-2.31,-2.44,
-1.55,-1.68,-1.82,-1.97,-2.1,-2.25,-2.4,-2.5,
-1.62,-1.79,-1.93,-2.06,-2.2,-2.34,-2.47,
-1.65,-1.83,-1.97,-2.12,-2.25,-2.37,-2.5,
-1.6,-1.76,-1.9,-2.03,-2.17,-2.3,-2.43,
-1.58,-1.72,-1.86,-1.98,-2.11,-2.24,-2.37,-2.5,
-1.6,-1.75,-1.88,-2.02,-2.15,-2.28,-2.42,-2.52,
-1.7,-1.85,-1.99,-2.13,-2.27,-2.4,
-1.65,-1.79,-1.93,-2.07,-2.2,-2.33,
-1.75,-1.88,-2.02,-2.14,-2.28,-2.43,
-1.9,-2.03,-2.16,-2.3,
-1.9,-2.02,-2.15,-2.3,
-1.95,-2.05,-2.2,-2.35,
-2.0,-2.12,-2.25,-2.38,
-2.05,-2.2,-2.3,
-1.3,-1.42,-1.3,-1.42,-1.7,-1.28,-1.4,-1.55,-1.8,-1.97];
const sculptorFillErr = [
.1,.12,.14,.16,.16,.18,.2,
.08,.1,.12,.14,.16,.18,.2,.22,.24,
.08,.1,.12,.14,.16,.2,.22,.26,.28,
.08,.1,.12,.14,.16,.2,.24,.28,.3,.34,
.1,.1,.14,.16,.2,.22,.28,.3,.35,
.1,.12,.14,.16,.2,.24,.26,.3,.32,
.1,.12,.14,.18,.2,.24,.28,.3,.3,
.1,.14,.16,.18,.22,.26,.3,.32,
.12,.14,.16,.2,.22,.26,.3,.32,
.12,.14,.18,.2,.24,.28,.3,
.14,.14,.18,.22,.26,.3,.32,
.12,.14,.18,.2,.24,.28,.3,
.12,.14,.16,.2,.24,.26,.3,.32,
.12,.14,.18,.2,.24,.28,.3,.32,
.14,.16,.2,.24,.28,.3,
.14,.16,.2,.24,.28,.3,
.14,.16,.2,.24,.28,.3,
.16,.2,.24,.28,
.16,.2,.24,.28,
.18,.2,.24,.28,
.18,.2,.24,.28,
.2,.24,.28,
.07,.08,.08,.1,.1,.08,.1,.1,.12,.12];
const sculptorFitR = [.05,.5,1,1.5,2,2.5,3,3.5,4,4.5,5,5.5,6,6.67];
const sculptorFitMean = [-1.58,-1.71,-1.85,-1.95,-2.02,-2.09,-2.14,-2.19,-2.23,-2.26,-2.27,-2.28,-2.27,-2.24];
const sculptorFitUpper = [-1.24,-1.37,-1.5,-1.59,-1.66,-1.74,-1.81,-1.85,-1.89,-1.92,-1.93,-1.94,-1.91,-1.87];
const sculptorFitLower = [-1.92,-2.05,-2.18,-2.27,-2.35,-2.42,-2.48,-2.54,-2.58,-2.61,-2.62,-2.63,-2.63,-2.61];
const sculptorXTicks = [0,1,2,3,4,5,6];
const sculptorYTicks = [-1,-1.5,-2,-2.5,-3,-3.5,-4];

/* ---------- Sextans ---------- */
const sextansR = [
.147,.192,.26,.26,.278,.29,.29,.314,.332,.364,
.364,.376,.4,.43,.437,.45,.467,.462,.486,.474,
.494,.494,.518,.541,.528,.541,.553,.568,.568,.568,
.58,.602,.602,.612,.634,.614,.646,.644,.654,.666,
.688,.688,.688,.695,.72,.713,.727,.732,.764,.732,
.764,.772,.789,.789,.794,.813,.813,.789,.791,.826,
.82,.838,.855,.867,.887,.882,.88,.909,.912,.916,
.926,.953,.97,1.002,1.007,1.015,1.069,1.069,1.071,1.081,
1.071,1.076,1.069,1.106,1.12,1.138,1.157,1.167,1.172,1.187,
1.182,1.187,1.201,1.226,1.248,1.256,1.283,1.293,1.302,1.312,
1.317,1.31,1.329,1.322,1.351,1.383,1.391,1.4,1.408,1.432,
1.445,1.469,1.457,1.462,1.489,1.506,1.518,1.543,1.555,1.555,
1.558,1.592,1.604,1.624,1.639,1.609,1.624,1.617,1.634,1.636,
1.695,1.71,1.732,1.742,1.796,1.826,1.838,1.838,1.899,1.943,
1.961,2.052,2.064,2.128,2.133,2.199,2.208,2.273,2.275,2.337,
2.742,2.771,2.781,2.902,3.501];
const sextansFeH = [
-2.32,-2.33,-1.94,-2.44,-1.98,-2.03,-2.08,-2.11,-1.94,-1.96,
-2.48,-2.06,-1.96,-1.96,-1.79,-2.85,-1.65,-2.02,-2.02,-2.68,
-1.84,-2.63,-1.95,-1.78,-2.84,-2.69,-2.04,-2.53,-2.82,-2.02,
-2.27,-2.28,-2.74,-1.87,-1.89,-2.34,-2.34,-3.2,-1.67,-2.16,
-1.6,-2.28,-2.79,-2.08,-2.02,-3.0,-1.7,-1.6,-1.59,-2.26,
-2.26,-2.84,-1.8,-1.85,-2.05,-2.07,-2.12,-2.35,-3.8,-3.18,
-2.52,-2.04,-1.9,-1.9,-1.61,-2.53,-2.19,-1.85,-2.19,-2.29,
-2.41,-2.66,-2.15,-2.29,-2.45,-2.65,-2.37,-1.91,-1.8,-1.8,
-2.81,-2.84,-3.04,-1.82,-1.98,-2.04,-2.75,-2.28,-1.78,-1.67,
-1.86,-2.07,-2.2,-2.7,-2.46,-3.19,-1.75,-1.98,-2.22,-2.37,
-2.0,-2.09,-2.03,-2.87,-2.75,-2.28,-3.0,-2.19,-2.61,-2.65,
-2.41,-2.62,-2.88,-3.22,-2.28,-2.19,-2.26,-2.57,-2.11,-2.34,
-2.87,-1.87,-2.64,-1.86,-1.85,-3.18,-2.8,-2.85,-2.64,-2.31,
-3.16,-2.87,-2.71,-1.9,-2.02,-2.4,-2.39,-2.97,-2.13,-2.89,
-3.0,-2.8,-2.77,-2.75,-2.87,-2.69,-2.49,-2.76,-2.99,-2.53,
-2.69,-2.83,-2.46,-2.98,-3.15];
const sextansErr = [
.19,.22,.17,.24,.16,.16,.13,.13,.16,.17,
.17,.14,.16,.16,.22,.6,.13,.22,.22,.28,
.16,.38,.16,.19,.4,.54,.14,.32,.43,.16,
.19,.19,.17,.16,.17,.13,.16,.76,.17,.16,
.13,.16,.16,.16,.16,.4,.16,.09,.08,.13,
.13,.18,.16,.14,.16,.13,.13,.19,.81,.75,
.22,.16,.16,.13,.06,.2,.11,.1,.13,.13,
.13,.25,.16,.16,.16,.35,.28,.16,.13,.16,
.16,.17,.28,.1,.14,.14,.5,.24,.13,.09,
.13,.16,.16,.19,.16,.52,.22,.16,.14,.19,
.13,.16,.16,.35,.25,.13,.09,.09,.16,.19,
.13,.13,.14,.28,.13,.22,.11,.22,.16,.14,
.53,.22,.16,.22,.16,.52,.16,.16,.16,.16,
.28,.09,.24,.33,.14,.38,.35,.6,.06,.14,
.08,.11,.13,.28,.2,.08,.09,.41,.5,.38,
.19,.23,.31,.31,.44];
const sextansFitR = [.15,.5,.75,1,1.25,1.5,1.75,2,2.25,2.5,2.75,3,3.5];
const sextansFitMean = [-2.02,-2.09,-2.16,-2.22,-2.3,-2.38,-2.47,-2.57,-2.65,-2.74,-2.83,-2.91,-3.03];
const sextansFitUpper = [-1.72,-1.81,-1.87,-1.94,-2.02,-2.11,-2.22,-2.32,-2.41,-2.49,-2.56,-2.62,-2.68];
const sextansFitLower = [-2.31,-2.38,-2.44,-2.52,-2.61,-2.72,-2.82,-2.92,-3.01,-3.1,-3.17,-3.24,-3.38];
const sextansXTicks = [0,.5,1,1.5,2,2.5,3,3.5];
const sextansYTicks = [-1.5,-2,-2.5,-3,-3.5,-4,-4.5];

/* ---------- drawing ---------- */
const SVG_NS = 'http://www.w3.org/2000/svg';

function make(tag, attrs) {
  const node = document.createElementNS(SVG_NS, tag);
  for (const key in attrs) node.setAttribute(key, attrs[key]);
  return node;
}

function tickText(value, digits) {
  return value.toFixed(digits).replace('-', '\u2212');
}

function smoothSegments(pts) {
  let d = '';
  for (let i = 0; i < pts.length - 1; i++) {
    const p0 = pts[Math.max(i - 1, 0)];
    const p1 = pts[i];
    const p2 = pts[i + 1];
    const p3 = pts[Math.min(i + 2, pts.length - 1)];
    const c1x = p1[0] + (p2[0] - p0[0]) / 6;
    const c1y = p1[1] + (p2[1] - p0[1]) / 6;
    const c2x = p2[0] - (p3[0] - p1[0]) / 6;
    const c2y = p2[1] - (p3[1] - p1[1]) / 6;
    d += 'C' + c1x.toFixed(1) + ' ' + c1y.toFixed(1) + ' ' + c2x.toFixed(1) + ' ' + c2y.toFixed(1) + ' ' + p2[0].toFixed(1) + ' ' + p2[1].toFixed(1);
  }
  return d;
}

function drawPanel(p) {
  const root = document.getElementById(p.id);
  const marks = root.querySelector('.marks');
  const ticks = root.querySelector('.ticks');
  const xAt = v => p.left + (v - p.xMin) / (p.xMax - p.xMin) * (p.right - p.left);
  const yAt = v => p.top + (p.yMax - v) / (p.yMax - p.yMin) * (p.bottom - p.top);

  const stems = make('g', {});
  
  
  marks.appendChild(stems);

  p.r.forEach((r, i) => {
    const x = +xAt(r).toFixed(1);
    const hi = yAt(p.feh[i] + p.err[i]).toFixed(1);
    const lo = yAt(p.feh[i] - p.err[i]).toFixed(1);
    const bar = make('path', {
      d: 'M' + x + ' ' + hi + 'V' + lo + 'M' + (x - 3.2) + ' ' + hi + 'h6.4M' + (x - 3.2) + ' ' + lo + 'h6.4',
      stroke: '#1f77b4', 'stroke-width': 1.5, fill: 'none'
    });
    
    
    stems.appendChild(bar);
  });

  const upperPts = p.fitR.map((r, i) => [xAt(r), yAt(p.fitUpper[i])]);
  const lowerPts = p.fitR.map((r, i) => [xAt(r), yAt(p.fitLower[i])]).reverse();
  const band = make('path', {
    d: 'M' + upperPts[0][0].toFixed(1) + ' ' + upperPts[0][1].toFixed(1) + smoothSegments(upperPts) +
       'L' + lowerPts[0][0].toFixed(1) + ' ' + lowerPts[0][1].toFixed(1) + smoothSegments(lowerPts) + 'Z',
    fill: '#ff7f0e', 'fill-opacity': .3, stroke: '#ff7f0e', 'stroke-opacity': .3, 'stroke-width': 1
  });
  
  
  marks.appendChild(band);

  const dots = make('g', {});
  
  
  marks.appendChild(dots);

  p.r.forEach((r, i) => {
    const dot = make('circle', {
      cx: xAt(r).toFixed(1), cy: yAt(p.feh[i]).toFixed(1), r: 4.3, fill: '#1f77b4'
    });
    
    
    dots.appendChild(dot);
  });

  const meanPts = p.fitR.map((r, i) => [xAt(r), yAt(p.fitMean[i])]);
  const fit = make('path', {
    d: 'M' + meanPts[0][0].toFixed(1) + ' ' + meanPts[0][1].toFixed(1) + smoothSegments(meanPts),
    fill: 'none', stroke: '#ff7008', 'stroke-width': 3
  });
  
  
  marks.appendChild(fit);

  p.xTicks.forEach(v => {
    const x = xAt(v);
    const mark = make('line', { x1: x, x2: x, y1: p.bottom, y2: p.bottom + 5, stroke: '#000', 'stroke-width': 1 });
    
    
    ticks.appendChild(mark);
    const label = make('text', { x: x, y: p.bottom + 20, 'text-anchor': 'middle', class: 'tick-label' });
    
    
    label.textContent = tickText(v, p.xDigits);
    ticks.appendChild(label);
  });

  p.yTicks.forEach(v => {
    const y = yAt(v);
    const mark = make('line', { x1: p.left - 5, x2: p.left, y1: y, y2: y, stroke: '#000', 'stroke-width': 1 });
    
    
    ticks.appendChild(mark);
    const label = make('text', { x: p.left - 8, y: y + 5, 'text-anchor': 'end', class: 'tick-label' });
    
    
    label.textContent = tickText(v, p.yDigits);
    ticks.appendChild(label);
  });
}

drawPanel({ id: 'panel-ngc205', name: 'ngc205',
  left: 68, right: 587, top: 11, bottom: 397,
  xMin: .154, xMax: 11.56, yMin: -4.137, yMax: 1.351,
  xDigits: 0, yDigits: 0, xTicks: ngc205XTicks, yTicks: ngc205YTicks,
  r: ngc205R, feh: ngc205FeH, err: ngc205Err,
  fitR: ngc205FitR, fitMean: ngc205FitMean, fitUpper: ngc205FitUpper, fitLower: ngc205FitLower });

drawPanel({ id: 'panel-ngc6822', name: 'ngc6822',
  left: 683, right: 1190, top: 11, bottom: 397,
  xMin: -.001, xMax: 1.028, yMin: -3.346, yMax: .365,
  xDigits: 1, yDigits: 1, xTicks: ngc6822XTicks, yTicks: ngc6822YTicks,
  r: ngc6822R, feh: ngc6822FeH, err: ngc6822Err,
  fitR: ngc6822FitR, fitMean: ngc6822FitMean, fitUpper: ngc6822FitUpper, fitLower: ngc6822FitLower });

drawPanel({ id: 'panel-peg', name: 'peg-dirr',
  left: 80, right: 587, top: 472, bottom: 850,
  xMin: .416, xMax: 2.655, yMin: -3.601, yMax: -.381,
  xDigits: 2, yDigits: 1, xTicks: pegXTicks, yTicks: pegYTicks,
  r: pegR, feh: pegFeH, err: pegErr,
  fitR: pegFitR, fitMean: pegFitMean, fitUpper: pegFitUpper, fitLower: pegFitLower });

drawPanel({ id: 'panel-phoenix', name: 'phoenix',
  left: 683, right: 1190, top: 472, bottom: 850,
  xMin: .081, xMax: 4.086, yMin: -3.767, yMax: .433,
  xDigits: 1, yDigits: 1, xTicks: phoenixXTicks, yTicks: phoenixYTicks,
  r: phoenixR, feh: phoenixFeH, err: phoenixErr,
  fitR: phoenixFitR, fitMean: phoenixFitMean, fitUpper: phoenixFitUpper, fitLower: phoenixFitLower });

drawPanel({ id: 'panel-sculptor', name: 'sculptor',
  left: 80, right: 587, top: 923, bottom: 1300,
  xMin: -.287, xMax: 6.977, yMin: -4.291, yMax: -.642,
  xDigits: 0, yDigits: 1, xTicks: sculptorXTicks, yTicks: sculptorYTicks,
  r: sculptorR.concat(sculptorCoreR, sculptorFillR),
  feh: sculptorFeH.concat(sculptorCoreFeH, sculptorFillFeH),
  err: sculptorErr.concat(sculptorCoreErr, sculptorFillErr),
  fitR: sculptorFitR, fitMean: sculptorFitMean, fitUpper: sculptorFitUpper, fitLower: sculptorFitLower });

drawPanel({ id: 'panel-sextans', name: 'sextans',
  left: 683, right: 1190, top: 923, bottom: 1300,
  xMin: -.022, xMax: 3.665, yMin: -4.767, yMax: -1.187,
  xDigits: 1, yDigits: 1, xTicks: sextansXTicks, yTicks: sextansYTicks,
  r: sextansR, feh: sextansFeH, err: sextansErr,
  fitR: sextansFitR, fitMean: sextansFitMean, fitUpper: sextansFitUpper, fitLower: sextansFitLower });
</script>
</body>
</html>
